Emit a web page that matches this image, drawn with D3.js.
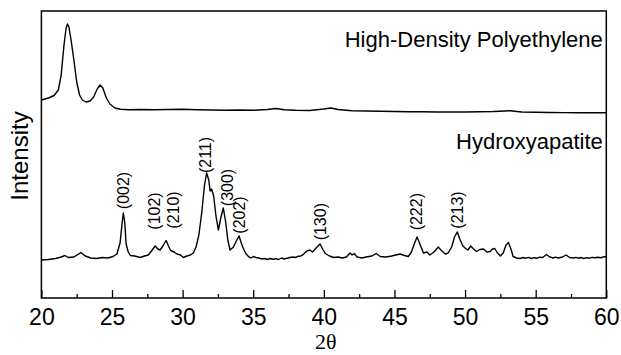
<!DOCTYPE html>
<html>
<head>
<meta charset="utf-8">
<script src="https://cdn.jsdelivr.net/npm/d3@7"></script>
<style>
    body { margin: 0; background: #fff; }
    text { font-family: "Liberation Sans", Arial, sans-serif; fill: #000; }
</style>
</head>
<body>
<div id="xrdChart"></div>
<script>

// 2-theta positions and intensities (a.u.)
let hdpeTheta = [20.0, 20.5, 20.9, 21.2, 21.4, 21.6, 21.75, 21.85, 21.95, 22.1, 22.3, 22.5, 22.7, 22.9,
                 23.15, 23.45, 23.7, 23.95, 24.15, 24.35, 24.6, 24.85, 25.2, 25.6, 26.2, 27, 28, 29,
                 30, 31, 32, 33, 34, 35, 36, 36.6, 37.2, 38, 39, 40, 40.5, 41, 42, 43, 44, 45, 46,
                 47, 48, 49, 50, 51, 52, 53.2, 54, 55, 56, 57, 58, 59, 60];
let hdpeIntensity = [198, 200, 202.5, 208, 223, 253, 270, 274, 271, 258, 238, 216, 203, 198,
                     196, 197, 201, 209, 213, 210, 200, 194, 190, 188.7, 188.3, 188.5, 188.2, 188.5,
                     188.7, 188.2, 188, 187.8, 188, 187.7, 188.5, 189.5, 188.2, 187.7, 187.5, 189, 190, 188.5,
                     187.2, 187, 186.7, 186.5, 186.3, 186.2, 186, 186, 186, 186.2, 186.5, 187.3, 186, 185.7,
                     185.5, 185.4, 185.3, 185.3, 185.2];

let haTheta = [20.0, 20.5, 21.0, 21.4, 21.67, 21.9, 22.3, 22.8, 23.1, 23.5, 23.9, 24.3, 24.7, 25.07,
               25.35, 25.57, 25.7, 25.8, 25.9, 26.0, 26.15, 26.3, 26.6, 27.0, 27.3, 27.57, 27.85, 28.05,
               28.25, 28.4, 28.6, 28.83, 29.0, 29.15, 29.4, 29.6, 29.85, 30.05, 30.3, 30.55, 30.76, 30.95,
               31.15, 31.35, 31.55, 31.7, 31.85, 31.95, 32.05, 32.2, 32.35, 32.53, 32.7, 32.88, 33.05, 33.2,
               33.36, 33.6, 33.8, 34.0, 34.15, 34.3, 34.5, 34.7, 34.85, 35.0, 35.2, 35.4, 35.6, 35.8,
               36.0, 36.2, 36.4, 36.6, 36.8, 37.0, 37.2, 37.4, 37.6, 37.8, 38.0, 38.2, 38.35, 38.5,
               38.8, 39.0, 39.2, 39.45, 39.73, 39.95, 40.1, 40.4, 40.7, 41.0,
               41.3, 41.6, 41.85, 42.0, 42.15, 42.35, 42.7, 43.0, 43.4, 43.7, 44.0, 44.4, 44.8, 45.1,
               45.4, 45.7, 45.98, 46.2, 46.4, 46.6, 46.8, 47.05, 47.3, 47.5, 47.8, 48.1, 48.35, 48.6,
               48.8, 49.05, 49.25, 49.45, 49.65, 49.85, 50.0, 50.2, 50.4, 50.6, 50.8, 51.05, 51.3, 51.55,
               51.77, 51.95, 52.1, 52.3, 52.5, 52.7, 52.9, 53.07, 53.25, 53.4, 53.65, 53.9, 54.1, 54.3,
               54.5, 54.7, 54.9, 55.1, 55.3, 55.5, 55.76, 56.0, 56.24, 56.4, 56.6, 56.9, 57.15, 57.4,
               57.66, 57.85, 58.0, 58.2, 58.4, 58.6, 58.8, 59.0, 59.2, 59.4, 59.6, 59.8, 60.0];
let haIntensity = [38, 38.5, 39.5, 41, 42.5, 40.5, 41, 45.5, 42, 40, 39.5, 40.5, 40, 41.5,
                   44, 55, 73, 85, 76, 54, 46, 42.5, 42, 40.5, 42, 43, 48, 52,
                   49, 48, 52, 57.5, 52, 47.5, 46, 44, 43, 40.5, 42, 43, 45, 51,
                   63, 85, 113, 125, 118, 107, 109, 102, 83, 68, 80, 90, 76, 58,
                   48, 51, 57, 62, 55, 49.5, 44, 41, 40, 41.5, 40.5, 40, 39, 39.5,
                   38.5, 39.5, 38.8, 39.3, 38.5, 40, 39, 39.8, 40.5, 41, 40.5, 41.8, 42, 43,
                   47, 48, 46, 50, 54, 48, 44.5, 42, 40.5, 41,
                   40, 41, 45, 43, 44.5, 41, 40, 41, 42, 44.5, 41.5, 41, 42, 43,
                   44, 42.5, 41.5, 46, 54, 61, 54, 45, 46, 43, 46, 51, 47, 44,
                   45, 51, 61, 66, 58, 52, 50, 48, 52, 49, 46.5, 48.5, 49, 46,
                   46.5, 49, 49.5, 45, 42, 45, 53, 55.5, 49, 41.5, 40, 39.5, 40.5, 39.8,
                   40.6, 39.5, 40.3, 39.8, 40.8, 40.5, 43.5, 41, 40, 40.8, 40, 41, 43, 40.5,
                   40, 40.6, 39.8, 40.5, 39.5, 40.3, 39.8, 40.6, 40.2, 40.8, 40.3, 41, 41.5];

// reflection labels: position and height of label centre
let peakLabels = ["(002)", "(102)", "(210)", "(211)", "(300)", "(202)", "(130)", "(222)", "(213)"];
let peakTheta = [25.8, 28.0, 29.35, 31.65, 33.17, 34.0, 39.73, 46.55, 49.45];
let peakLabelY = [107.5, 87, 88, 143, 110.5, 83, 76.3, 86.3, 88];

let seriesNames = ["High-Density Polyethylene", "Hydroxyapatite"];
let seriesNameY = [251.5, 149];

let majorTicks = [20, 25, 30, 35, 40, 45, 50, 55, 60];
let minorTicks = [22.5, 27.5, 32.5, 37.5, 42.5, 47.5, 52.5, 57.5];

let width = 621, height = 355;
let margin = {top: 11, right: 14.7, bottom: 57, left: 41.4};

let svg = d3.select("#xrdChart")
            .append("svg")
            .attr("width", width)
            .attr("height", height);

let xScale = d3.scaleLinear()
               .domain([20, 60])
               .range([margin.left, width - margin.right]);

let yScale = d3.scaleLinear()
               .domain([0, 287])
               .range([height - margin.bottom, margin.top]);

let line = d3.line()
             .x(d => xScale(d[0]))
             .y(d => yScale(d[1]));

let hdpeData = d3.zip(hdpeTheta, hdpeIntensity);
let haData = d3.zip(haTheta, haIntensity);

svg.selectAll("path.pattern")
   .data([hdpeData, haData])
   .enter()
   .append("path")
   .attr("class", "pattern")
   .attr("d", line)
   .attr("fill", "none")
   .attr("stroke", "#000")
   .attr("stroke-width", 1.4)
   .attr("stroke-linejoin", "round");

// minor ticks, no labels
svg.append("g")
   .attr("transform", "translate(0," + (height - margin.bottom) + ")")
   .call(d3.axisBottom(xScale).tickValues(minorTicks).tickSize(-4).tickFormat(""))
   .call(g => g.select(".domain").remove())
   .selectAll("line")
   .attr("stroke-width", 1.3);

let xAxis = svg.append("g")
               .attr("transform", "translate(0," + (height - margin.bottom) + ")")
               .call(d3.axisBottom(xScale).tickValues(majorTicks).tickSize(-8).tickPadding(11).tickFormat(d3.format("d")));

xAxis.select(".domain").remove();
xAxis.selectAll("line").attr("stroke-width", 1.3);
xAxis.selectAll("text")
     .style("font-size", "23px")
     .style("font-family", "'Liberation Sans', Arial, sans-serif");

// frame
svg.append("rect")
   .attr("x", margin.left)
   .attr("y", margin.top)
   .attr("width", width - margin.left - margin.right)
   .attr("height", height - margin.top - margin.bottom)
   .attr("fill", "none")
   .attr("stroke", "#000")
   .attr("stroke-width", 1.5);

svg.selectAll("text.peak")
   .data(peakLabels)
   .enter()
   .append("text")
   .attr("class", "peak")
   .attr("transform", (d, i) => "translate(" + xScale(peakTheta[i]) + "," + yScale(peakLabelY[i]) + ") rotate(-90)")
   .attr("text-anchor", "middle")
   .attr("dominant-baseline", "central")
   .style("font-size", "16px")
   .text(d => d);

svg.selectAll("text.series")
   .data(seriesNames)
   .enter()
   .append("text")
   .attr("class", "series")
   .attr("x", xScale(59.75))
   .attr("y", (d, i) => yScale(seriesNameY[i]))
   .attr("text-anchor", "end")
   .style("font-size", "22px")
   .text(d => d);

svg.append("text")
   .attr("transform", "translate(28," + 156 + ") rotate(-90)")
   .attr("text-anchor", "middle")
   .style("font-size", "24px")
   .text("Intensity");

svg.append("text")
   .attr("x", xScale(40) + 2)
   .attr("y", 349)
   .attr("text-anchor", "middle")
   .style("font-family", "'Liberation Serif', 'Times New Roman', serif")
   .style("font-size", "22px")
   .text("2θ");

</script>
</body>
</html>
